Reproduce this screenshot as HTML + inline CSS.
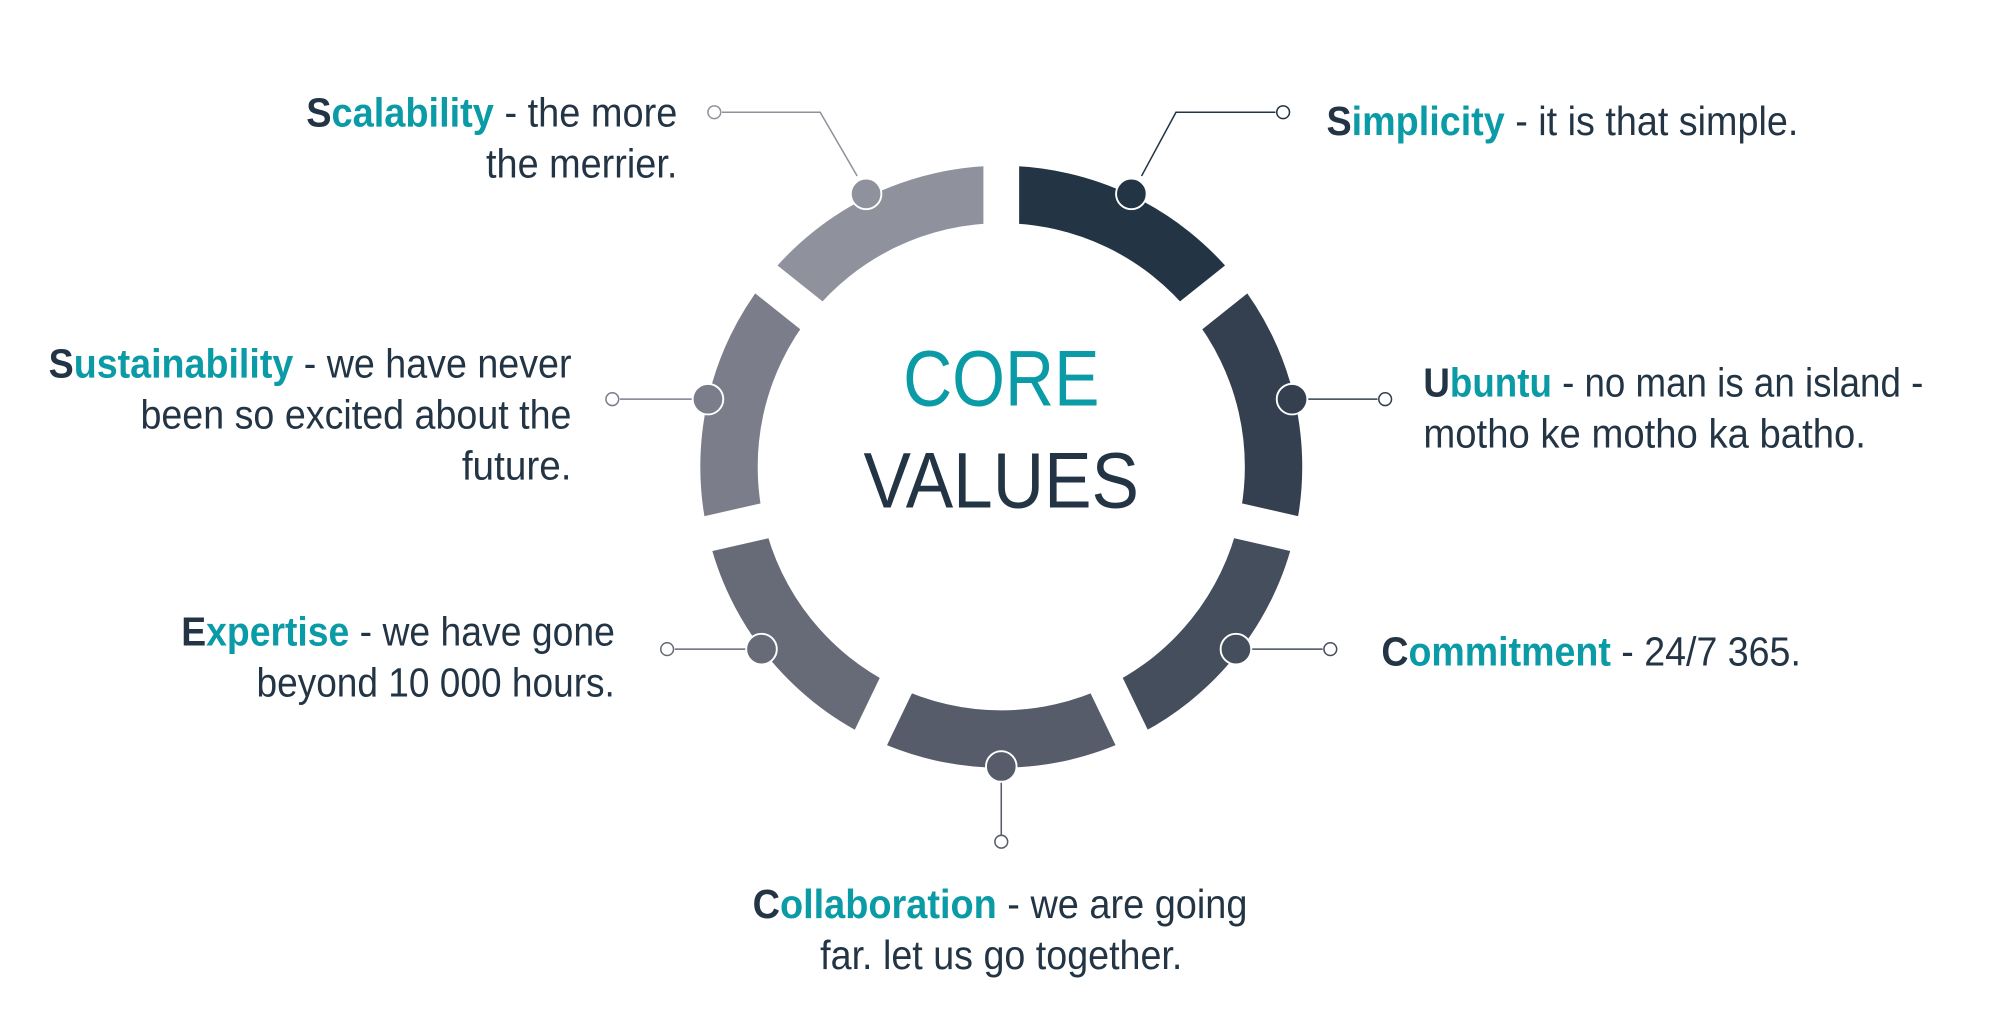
<!DOCTYPE html>
<html><head><meta charset="utf-8"><style>
html,body{margin:0;padding:0;background:#fff;}
svg{display:block;}
text{font-family:"Liberation Sans",sans-serif;font-size:32px;fill:#233545;}
.b{font-weight:bold;fill:#0a9ba6;}
.d{font-weight:bold;fill:#233545;}
</style></head><body>
<svg width="2000" height="1033" viewBox="0 0 1568 810" xmlns="http://www.w3.org/2000/svg">
<rect width="1568" height="810" fill="#fff"/>
<g id="ring"></g>
<script>
(function(){
var cx=785,cy=366,Ro=236,Ri=191;
var cols=["#233545","#34404f","#454e5d","#575c6b","#676b78","#7b7e8a","#8f929c"];
var g=document.getElementById('ring');var ns="http://www.w3.org/2000/svg";
function pt(r,a){a=a*Math.PI/180;return [cx+r*Math.sin(a),cy-r*Math.cos(a)];}
for(var i=0;i<7;i++){var a0=i*360/7,a1=(i+1)*360/7;
var p1=pt(Ro,a0),p2=pt(Ro,a1),p3=pt(Ri,a1),p4=pt(Ri,a0);
var p=document.createElementNS(ns,'path');
p.setAttribute('d','M'+p1+' A'+Ro+' '+Ro+' 0 0 1 '+p2+' L'+p3+' A'+Ri+' '+Ri+' 0 0 0 '+p4+'Z');
p.setAttribute('fill',cols[i]);g.appendChild(p);}
for(var i=0;i<7;i++){var r=document.createElementNS(ns,'rect');
r.setAttribute('x',cx-14);r.setAttribute('y',cy-260);r.setAttribute('width',28);r.setAttribute('height',260);
r.setAttribute('fill','#fff');r.setAttribute('transform','rotate('+(i*360/7)+' '+cx+' '+cy+')');g.appendChild(r);}
})();
</script>
<g fill="none" stroke-width="1.2">
<polyline points="895,138 922,88 1000,88" stroke="#233545"/>
<circle cx="1006" cy="88" r="5" stroke="#233545" fill="#fff"/>
<polyline points="672,138 643,88 566,88" stroke="#8f929c"/>
<circle cx="560" cy="88" r="5" stroke="#8f929c" fill="#fff"/>
<line x1="1025" y1="313" x2="1080" y2="313" stroke="#34404f"/>
<circle cx="1086" cy="313" r="5" stroke="#34404f" fill="#fff"/>
<line x1="981" y1="509" x2="1037" y2="509" stroke="#454e5d"/>
<circle cx="1043" cy="509" r="5" stroke="#454e5d" fill="#fff"/>
<line x1="785" y1="613" x2="785" y2="655" stroke="#575c6b"/>
<circle cx="785" cy="660" r="5" stroke="#575c6b" fill="#fff"/>
<line x1="585" y1="509" x2="529" y2="509" stroke="#676b78"/>
<circle cx="523" cy="509" r="5" stroke="#676b78" fill="#fff"/>
<line x1="543" y1="313" x2="486" y2="313" stroke="#7b7e8a"/>
<circle cx="480" cy="313" r="5" stroke="#7b7e8a" fill="#fff"/>
</g>
<g stroke="#fff" stroke-width="1.5">
<circle cx="887" cy="152" r="12" fill="#233545"/>
<circle cx="1013" cy="313" r="12" fill="#34404f"/>
<circle cx="969" cy="509" r="12" fill="#454e5d"/>
<circle cx="785" cy="601" r="12" fill="#575c6b"/>
<circle cx="597" cy="509" r="12" fill="#676b78"/>
<circle cx="555" cy="313" r="12" fill="#7b7e8a"/>
<circle cx="679" cy="152" r="12" fill="#8f929c"/>
</g>
<text x="708" y="318" textLength="154" lengthAdjust="spacingAndGlyphs" style="font-size:62px;fill:#0a9ba6">CORE</text>
<text x="677" y="398" textLength="216" lengthAdjust="spacingAndGlyphs" style="font-size:62px">VALUES</text>

<text x="240" y="99" textLength="291" lengthAdjust="spacingAndGlyphs"><tspan class="d">S</tspan><tspan class="b">calability</tspan> - the more</text>
<text x="381" y="139" textLength="150" lengthAdjust="spacingAndGlyphs">the merrier.</text>

<text x="1040" y="106" textLength="370" lengthAdjust="spacingAndGlyphs"><tspan class="d">S</tspan><tspan class="b">implicity</tspan> - it is that simple.</text>

<text x="38" y="296" textLength="410" lengthAdjust="spacingAndGlyphs"><tspan class="d">S</tspan><tspan class="b">ustainability</tspan> - we have never</text>
<text x="110" y="336" textLength="338" lengthAdjust="spacingAndGlyphs">been so excited about the</text>
<text x="362" y="376" textLength="86" lengthAdjust="spacingAndGlyphs">future.</text>

<text x="1116" y="311" textLength="392" lengthAdjust="spacingAndGlyphs"><tspan class="d">U</tspan><tspan class="b">buntu</tspan> - no man is an island -</text>
<text x="1116" y="351" textLength="347" lengthAdjust="spacingAndGlyphs">motho ke motho ka batho.</text>

<text x="142" y="506" textLength="340" lengthAdjust="spacingAndGlyphs"><tspan class="d">E</tspan><tspan class="b">xpertise</tspan> - we have gone</text>
<text x="201" y="546" textLength="281" lengthAdjust="spacingAndGlyphs">beyond 10 000 hours.</text>

<text x="1083" y="522" textLength="329" lengthAdjust="spacingAndGlyphs"><tspan class="d">C</tspan><tspan class="b">ommitment</tspan> - 24/7 365.</text>

<text x="590" y="720" textLength="388" lengthAdjust="spacingAndGlyphs"><tspan class="d">C</tspan><tspan class="b">ollaboration</tspan> - we are going</text>
<text x="643" y="760" textLength="284" lengthAdjust="spacingAndGlyphs">far. let us go together.</text>
</svg>
</body></html>
